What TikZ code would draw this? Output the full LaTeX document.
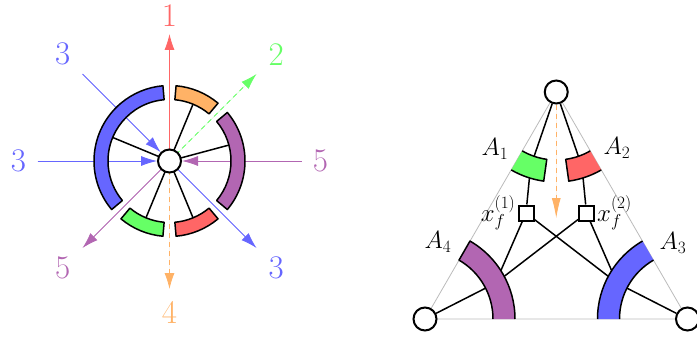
\documentclass[tikz,border=0pt]{standalone}
\usepackage{xcolor}
\usetikzlibrary{arrows.meta,positioning,backgrounds}
\definecolor{legRed}{HTML}{FF6666}
\definecolor{legGreen}{HTML}{66FF66}
\definecolor{legBlue}{HTML}{6666FF}
\definecolor{legOrange}{HTML}{FFB266}
\definecolor{legViolet}{HTML}{B266B2}
\definecolor{edgeGray}{HTML}{BBBBBB}

\begin{document}
\begin{tikzpicture}[
  x=1pt, y=1pt,
  >={Latex[length=16pt,width=10pt]},
  vertex/.style={
    circle,
    draw,
    fill=white,
    line width=2pt,
    minimum size=23pt,
    inner sep=0pt
  },
  factor box/.style={
    rectangle,
    draw,
    fill=white,
    line width=2pt,
    minimum size=15pt,
    inner sep=0pt
  },
  ring/.style={
    draw=black,
    line width=1.5pt,
    line join=round
  },
  spoke/.style={
    draw=black,
    line width=1.5pt
  },
  leg/.style={
    ->,
    line width=0.8pt
  },
  dashed leg/.style={
    leg,
    dash pattern=on 5pt off 4pt
  },
  leg label/.style={
    font=\fontsize{33}{40}\selectfont,
    inner sep=0pt
  },
  corner label/.style={
    font=\fontsize{24}{28}\selectfont,
    inner sep=1pt
  },
  box label/.style={
    font=\fontsize{26}{30}\selectfont,
    inner sep=1pt
  },
  tri edge/.style={
    draw=edgeGray,
    line width=0.8pt
  }
]
\useasboundingbox (0,0) rectangle (697,341);

% Left picture: one vertex with its legs
\node[vertex] (hub) at (169.5,180) {};

\node[leg label, text=legRed]    (lab1)  at ([shift={(90:145)}]hub.center)  {1};
\node[leg label, text=legGreen]  (lab2)  at ([shift={(45:151)}]hub.center)  {2};
\node[leg label, text=legBlue]   (lab3a) at ([shift={(135:151)}]hub.center) {3};
\node[leg label, text=legBlue]   (lab3b) at ([shift={(180:151)}]hub.center) {3};
\node[leg label, text=legBlue]   (lab3c) at ([shift={(-45:151)}]hub.center) {3};
\node[leg label, text=legOrange] (lab4)  at ([shift={(-90:151)}]hub.center) {4};
\node[leg label, text=legViolet] (lab5a) at ([shift={(0:151)}]hub.center)   {5};
\node[leg label, text=legViolet] (lab5b) at ([shift={(-135:151)}]hub.center) {5};

\coordinate (end1)  at ([shift={(90:127)}]hub.center);
\coordinate (end2)  at ([shift={(45:123)}]hub.center);
\coordinate (end3a) at ([shift={(135:123)}]hub.center);
\coordinate (end3b) at ([shift={(180:132)}]hub.center);
\coordinate (end3c) at ([shift={(-45:123)}]hub.center);
\coordinate (end4)  at ([shift={(-90:128)}]hub.center);
\coordinate (end5a) at ([shift={(0:132)}]hub.center);
\coordinate (end5b) at ([shift={(-135:123)}]hub.center);

\begin{scope}[on background layer]
  \draw[leg, draw=legRed, fill=legRed] (hub.center) -- (end1);
  \draw[dashed leg, draw=legGreen, fill=legGreen] (hub.center) -- (end2);
  \draw[leg, draw=legBlue, fill=legBlue] (end3a) -- (hub);
  \draw[leg, draw=legBlue, fill=legBlue] (end3b) -- (hub);
  \draw[leg, draw=legBlue, fill=legBlue] (hub.center) -- (end3c);
  \draw[dashed leg, draw=legOrange, fill=legOrange] (hub.center) -- (end4);
  \draw[leg, draw=legViolet, fill=legViolet] (end5a) -- (hub);
  \draw[leg, draw=legViolet, fill=legViolet] (hub.center) -- (end5b);
  \foreach \a in {157.5,67.5,15,-67.5,-112.5}
    \draw[spoke] (hub.center) -- ([shift={(\a:62)}]hub.center);
\end{scope}

% groups of legs round the vertex
\foreach \s/\e/\c in {95/220/legBlue, 50/85/legOrange, -40/40/legViolet,
                      -85/-50/legRed, -130/-95/legGreen}
  \filldraw[ring, fill=\c] ([shift={(\s:61.5)}]hub.center)
    arc[start angle=\s, end angle=\e, radius=61.5]
    -- ([shift={(\e:75.5)}]hub.center)
    arc[start angle=\e, end angle=\s, radius=75.5] -- cycle;

% Right picture: triangle with two inner boxes
\node[vertex] (top)      at (556.25,249) {};
\node[vertex] (botLeft)  at (425,22) {};
\node[vertex] (botRight) at (687.5,22) {};

\node[factor box] (boxOne) at (526,128) {};
\node[factor box] (boxTwo) at (586.5,128) {};
\node[box label, left=1pt of boxOne]  (xOne) {$x_f^{(1)}$};
\node[box label, right=1pt of boxTwo] (xTwo) {$x_f^{(2)}$};

\coordinate (midA1) at ([shift={(251:79)}]top.center);
\coordinate (midA2) at ([shift={(289:79)}]top.center);
\coordinate (midA3) at ([shift={(153:79)}]botRight.center);
\coordinate (midA4) at ([shift={(27:79)}]botLeft.center);
\coordinate (flowTip) at (556.25,123);

\node[corner label] (labA1) at (495,192) {$A_1$};
\node[corner label] (labA2) at (617,193) {$A_2$};
\node[corner label] (labA3) at (673,98) {$A_3$};
\node[corner label] (labA4) at (438,99) {$A_4$};

\begin{scope}[on background layer]
  \draw[tri edge] (top.center) -- (botLeft.center) -- (botRight.center) -- cycle;
  \draw[spoke] (top) -- (midA1) -- (boxOne);
  \draw[spoke] (top) -- (midA2) -- (boxTwo);
  \draw[spoke] (boxOne) -- (midA4) -- (botLeft);
  \draw[spoke] (boxTwo) -- (midA4);
  \draw[spoke] (boxTwo) -- (midA3) -- (botRight);
  \draw[spoke] (boxOne) -- (midA3);
  \draw[dashed leg, draw=legOrange, fill=legOrange,
        >={Latex[length=20pt,width=9pt]}] (top) -- (flowTip);
\end{scope}

% A1
\fill[legGreen] ([shift={(240:68)}]top.center) arc[start angle=240, end angle=262, radius=68]
  -- ([shift={(262:90)}]top.center) arc[start angle=262, end angle=240, radius=90] -- cycle;
\draw[ring] ([shift={(240:68)}]top.center) arc[start angle=240, end angle=262, radius=68]
  -- ([shift={(262:90)}]top.center) arc[start angle=262, end angle=240, radius=90];
% A2
\fill[legRed] ([shift={(278:68)}]top.center) arc[start angle=278, end angle=300, radius=68]
  -- ([shift={(300:90)}]top.center) arc[start angle=300, end angle=278, radius=90] -- cycle;
\draw[ring] ([shift={(300:68)}]top.center) arc[start angle=300, end angle=278, radius=68]
  -- ([shift={(278:90)}]top.center) arc[start angle=278, end angle=300, radius=90];
% A3
\fill[legBlue] ([shift={(120:68)}]botRight.center) arc[start angle=120, end angle=180, radius=68]
  -- ([shift={(180:90)}]botRight.center) arc[start angle=180, end angle=120, radius=90] -- cycle;
\draw[ring] ([shift={(120:68)}]botRight.center) arc[start angle=120, end angle=180, radius=68];
\draw[ring] ([shift={(120:90)}]botRight.center) arc[start angle=120, end angle=180, radius=90];
% A4
\fill[legViolet] ([shift={(0:68)}]botLeft.center) arc[start angle=0, end angle=60, radius=68]
  -- ([shift={(60:90)}]botLeft.center) arc[start angle=60, end angle=0, radius=90] -- cycle;
\draw[ring] ([shift={(0:68)}]botLeft.center) arc[start angle=0, end angle=60, radius=68]
  -- ([shift={(60:90)}]botLeft.center) arc[start angle=60, end angle=0, radius=90];

\end{tikzpicture}
\end{document}
